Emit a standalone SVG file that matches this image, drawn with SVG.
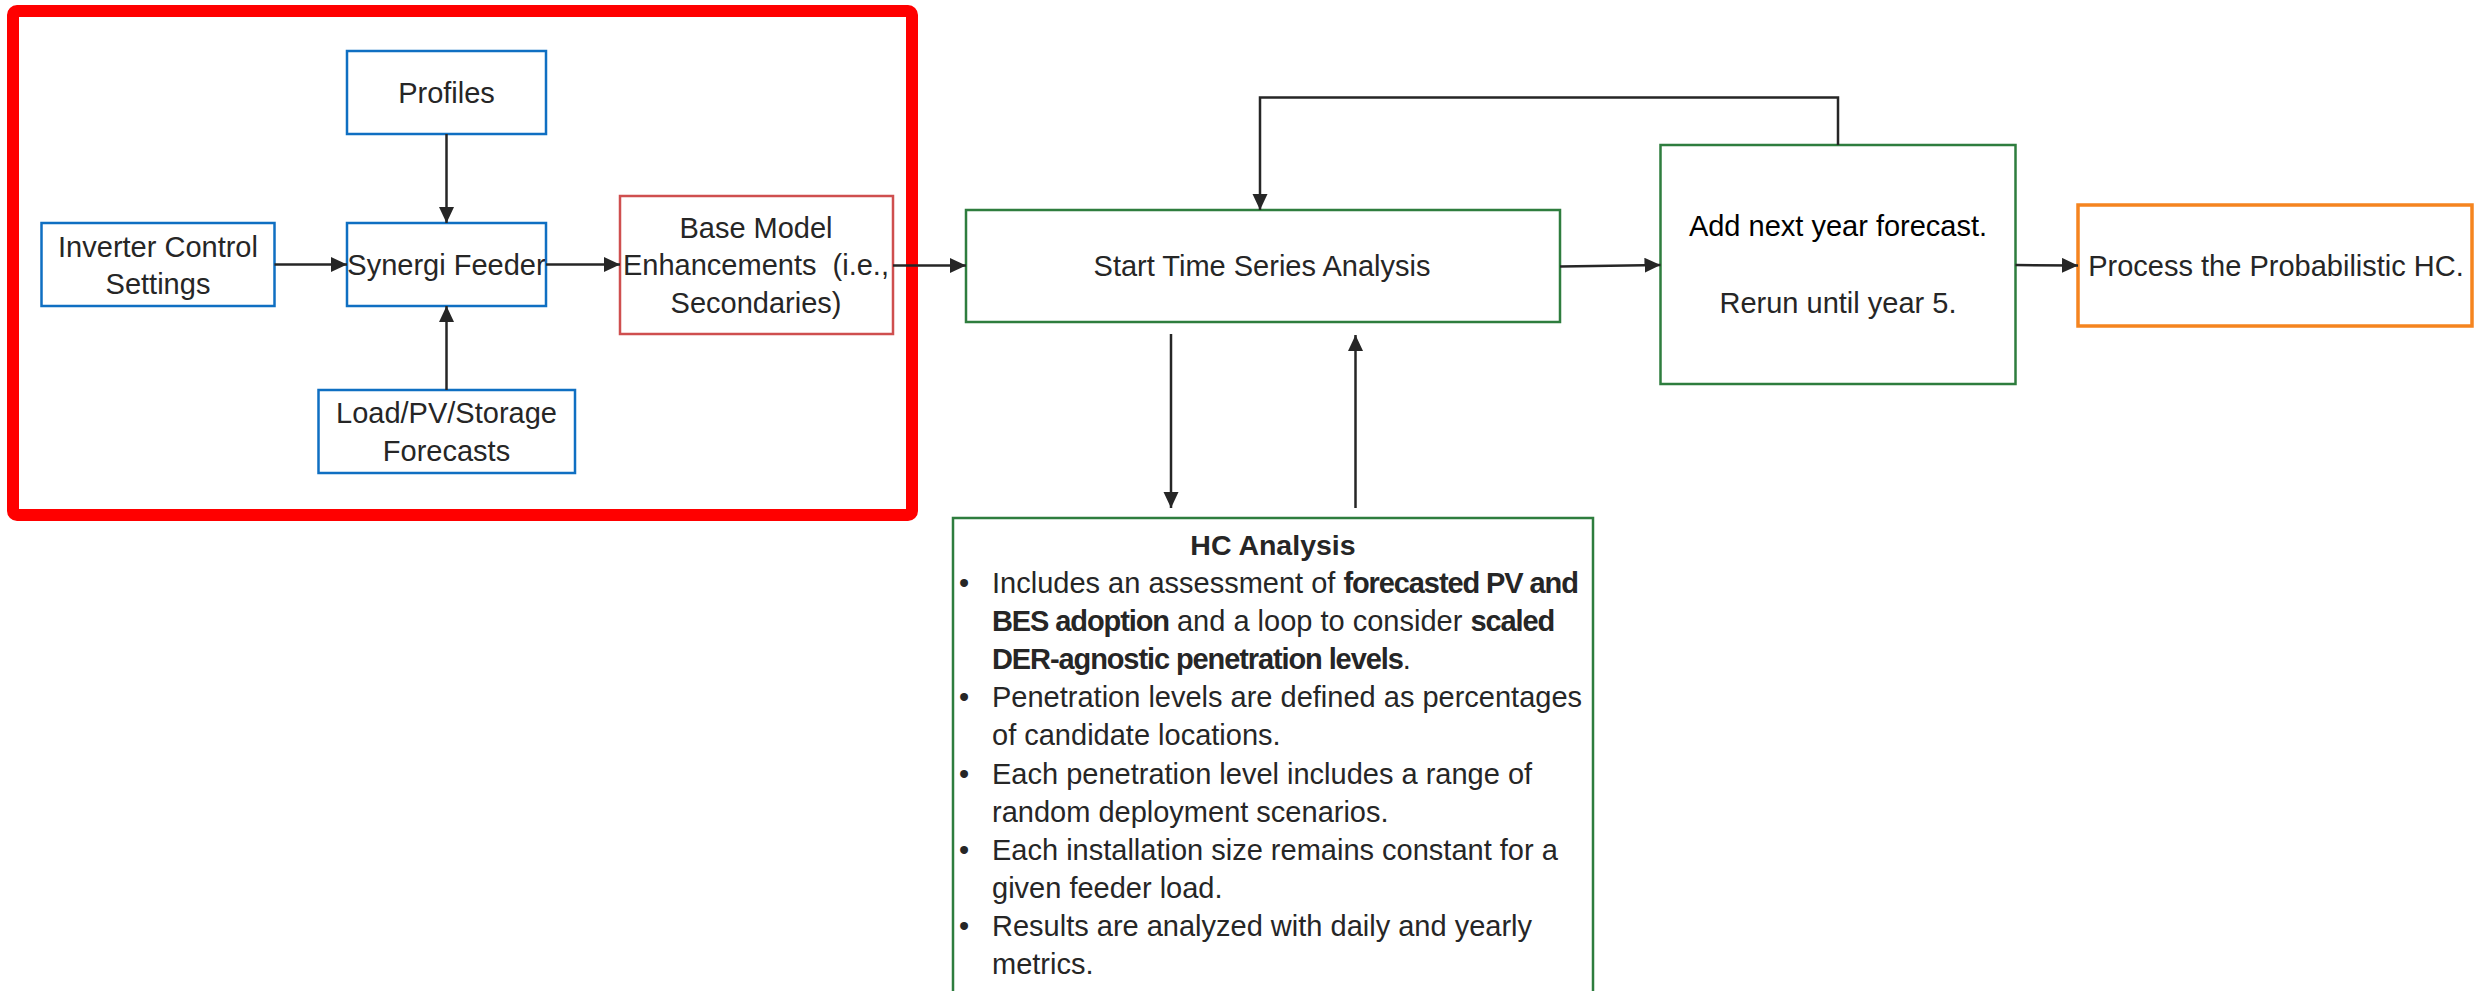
<svg xmlns="http://www.w3.org/2000/svg" width="2476" height="991" viewBox="0 0 2476 991">
  <style>
    text { font-family: "Liberation Sans", Arial, sans-serif; font-size: 29px; fill: #262626; }
    .c { text-anchor: middle; }
    .b { font-weight: bold; }
    .hb { font-weight: bold; letter-spacing: -1.1px; }
    .box { fill: #ffffff; stroke-width: 2.5; }
    .blue { stroke: #0F6FC2; }
    .green { stroke: #2E7D3E; }
    .orange { stroke: #F5841F; stroke-width: 3.5; }
    .rose { stroke: #CF4F4F; }
    .link { fill: none; stroke: #262626; stroke-width: 2.5; }
  </style>
  <defs>
    <marker id="arrow" markerUnits="userSpaceOnUse" markerWidth="17" markerHeight="16" refX="16" refY="7.5" orient="auto">
      <path d="M0,0 L16,7.5 L0,15 z" fill="#262626"/>
    </marker>
  </defs>

  <rect width="2476" height="991" fill="#ffffff"/>

  <!-- highlight frame around the model-preparation stage -->
  <rect id="frame" x="13" y="11" width="899" height="504" fill="none" stroke="#FF0000" stroke-width="12" rx="4"/>

  <g id="profiles">
    <rect class="box blue" x="347" y="51" width="199" height="83"/>
    <text class="c" x="446.5" y="102.5">Profiles</text>
  </g>

  <g id="inverter-settings">
    <rect class="box blue" x="41.5" y="223" width="233" height="83"/>
    <text class="c" x="158" y="256.5">Inverter Control</text>
    <text class="c" x="158" y="293.5">Settings</text>
  </g>

  <g id="synergi-feeder">
    <rect class="box blue" x="347" y="223" width="199" height="83"/>
    <text class="c" x="446.5" y="275">Synergi Feeder</text>
  </g>

  <g id="forecasts">
    <rect class="box blue" x="318.5" y="390" width="256.5" height="83"/>
    <text class="c" x="446.5" y="423">Load/PV/Storage</text>
    <text class="c" x="446.5" y="461">Forecasts</text>
  </g>

  <g id="base-model">
    <rect class="box rose" x="620" y="196" width="273" height="138"/>
    <text class="c" x="756" y="238">Base Model</text>
    <text class="c" x="756" y="275" xml:space="preserve">Enhancements  (i.e.,</text>
    <text class="c" x="756" y="312.5">Secondaries)</text>
  </g>

  <g id="time-series">
    <rect class="box green" x="966" y="210" width="594" height="112"/>
    <text class="c" x="1262" y="276">Start Time Series Analysis</text>
  </g>

  <g id="next-year">
    <rect class="box green" x="1660.5" y="145" width="355" height="239"/>
    <text class="c" x="1838" y="236" style="fill:#000000">Add next year forecast.</text>
    <text class="c" x="1838" y="313">Rerun until year 5.</text>
  </g>

  <g id="probabilistic-hc">
    <rect class="box orange" x="2078" y="205" width="394" height="121"/>
    <text class="c" x="2276" y="276">Process the Probabilistic HC.</text>
  </g>

  <g id="hc-analysis">
    <rect class="box green" x="953" y="518" width="640" height="480"/>
    <text class="c b" x="1273" y="555" style="font-size:28.5px">HC Analysis</text>
    <text x="959" y="593">•</text>
    <text x="992" y="593">Includes an assessment of <tspan class="hb">forecasted PV and</tspan></text>
    <text x="992" y="631"><tspan class="hb">BES adoption</tspan> and a loop to consider <tspan class="hb">scaled</tspan></text>
    <text x="992" y="668.5"><tspan class="hb">DER-agnostic penetration levels</tspan>.</text>
    <text x="959" y="707">•</text>
    <text x="992" y="707">Penetration levels are defined as percentages</text>
    <text x="992" y="745">of candidate locations.</text>
    <text x="959" y="783.5">•</text>
    <text x="992" y="783.5">Each penetration level includes a range of</text>
    <text x="992" y="822">random deployment scenarios.</text>
    <text x="959" y="860">•</text>
    <text x="992" y="860">Each installation size remains constant for a</text>
    <text x="992" y="898">given feeder load.</text>
    <text x="959" y="936">•</text>
    <text x="992" y="936">Results are analyzed with daily and yearly</text>
    <text x="992" y="973.5">metrics.</text>
  </g>

  <g id="connectors">
    <line class="link" x1="446.5" y1="134" x2="446.5" y2="223" marker-end="url(#arrow)"/>
    <line class="link" x1="446.5" y1="390" x2="446.5" y2="306" marker-end="url(#arrow)"/>
    <line class="link" x1="274.5" y1="264.5" x2="347" y2="264.5" marker-end="url(#arrow)" stroke-width="3"/>
    <line class="link" x1="546" y1="264.5" x2="620" y2="264.5" marker-end="url(#arrow)" stroke-width="3"/>
    <line class="link" x1="893" y1="265.5" x2="966" y2="265.5" marker-end="url(#arrow)" stroke-width="3"/>
    <line class="link" x1="1560" y1="266.5" x2="1660.5" y2="265" marker-end="url(#arrow)" stroke-width="3"/>
    <line class="link" x1="2015.5" y1="265" x2="2078" y2="265.5" marker-end="url(#arrow)" stroke-width="3"/>
    <polyline class="link" points="1838,145 1838,97.5 1260,97.5 1260,210" marker-end="url(#arrow)"/>
    <line class="link" x1="1171" y1="334" x2="1171" y2="508" marker-end="url(#arrow)"/>
    <line class="link" x1="1355.5" y1="508" x2="1355.5" y2="335" marker-end="url(#arrow)"/>
  </g>
</svg>
